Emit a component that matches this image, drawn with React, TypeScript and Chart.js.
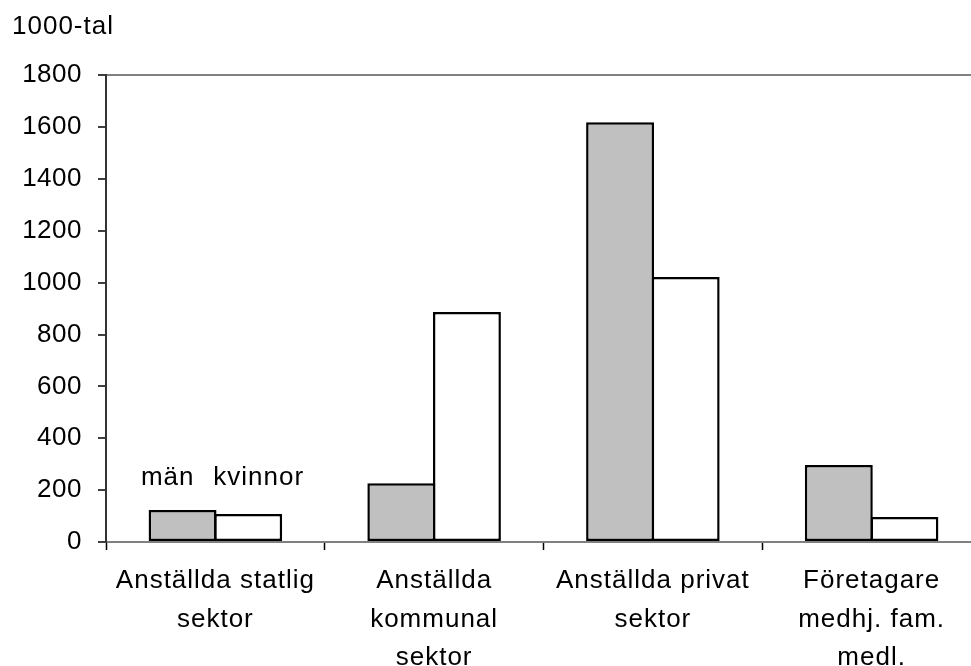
import { useEffect, useRef } from 'react';
import { Chart, registerables } from 'chart.js';

Chart.register(...registerables);

const categories: string[][] = [
  ['Anställda statlig', 'sektor'],
  ['Anställda', 'kommunal', 'sektor'],
  ['Anställda privat', 'sektor'],
  ['Företagare', 'medhj. fam.', 'medl.'],
];
const menValues = [123, 227, 1619, 297];
const womenValues = [108, 887, 1022, 96];
const seriesNames = ['män', 'kvinnor'];
const yMin = 0;
const yMax = 1800;
const yStep = 200;
const unitTitle = '1000-tal';
const seriesLabelValue = 220;

const FONT = '"Liberation Sans", Arial, Helvetica, sans-serif';

const spacingPlugin = {
  id: 'letterSpacing',
  beforeDraw(chart: any) {
    const ctx = chart.ctx;
    ctx.letterSpacing = '1px';
    const ys = chart.scales.y;
    if (ys && !ys._spPatched) {
      const orig = ys.drawLabels.bind(ys);
      ys.drawLabels = (area: any) => {
        const c = chart.ctx;
        const prev = c.letterSpacing;
        c.letterSpacing = '0.5px';
        orig(area);
        c.letterSpacing = prev;
      };
      ys._spPatched = true;
    }
  },
};

const seriesLabelPlugin = {
  id: 'seriesLabels',
  afterDatasetsDraw(chart: any) {
    const { ctx } = chart;
    const y = chart.scales.y;
    const m0 = chart.getDatasetMeta(0).data[0] as any;
    const k0 = chart.getDatasetMeta(1).data[0] as any;
    if (!m0 || !k0) return;
    ctx.save();
    ctx.letterSpacing = '1px';
    ctx.font = `26px ${FONT}`;
    ctx.fillStyle = '#000';
    ctx.textBaseline = 'alphabetic';
    const yy = y.getPixelForValue(seriesLabelValue);
    ctx.textAlign = 'right';
    ctx.fillText(chart.data.datasets[0].label, m0.x + m0.width / 2 - 22, yy);
    ctx.textAlign = 'left';
    ctx.fillText(chart.data.datasets[1].label, k0.x - k0.width / 2 - 1, yy);
    ctx.restore();
  },
};

export default function App() {
  const ref = useRef<HTMLCanvasElement | null>(null);

  useEffect(() => {
    if (!ref.current) return;
    const chart = new Chart(ref.current, {
      type: 'bar',
      data: {
        labels: categories,
        datasets: [
          {
            label: seriesNames[0],
            data: menValues,
            backgroundColor: '#c0c0c0',
            borderColor: '#000',
            borderWidth: 2.5,
            borderSkipped: false,
            barPercentage: 1.035,
            categoryPercentage: 0.6,
          },
          {
            label: seriesNames[1],
            data: womenValues,
            backgroundColor: '#ffffff',
            borderColor: '#000',
            borderWidth: 2.5,
            borderSkipped: false,
            barPercentage: 1.035,
            categoryPercentage: 0.6,
          },
        ],
      },
      options: {
        responsive: false,
        animation: false,
        devicePixelRatio: 1,
        layout: { padding: { left: 12, right: 9, top: 0, bottom: 0 } },
        plugins: {
          legend: { display: false },
          tooltip: { enabled: false },
          title: {
            display: true,
            text: unitTitle,
            align: 'start',
            color: '#000',
            font: { family: FONT, size: 26, weight: 'normal', lineHeight: 1.2 },
            padding: { top: 11, bottom: 33 },
          },
        },
        scales: {
          x: {
            type: 'category',
            offset: true,
            grid: {
              display: true,
              offset: true,
              drawOnChartArea: false,
              drawTicks: true,
              tickLength: 8,
              tickColor: '#000',
              tickWidth: 1.5,
            },
            border: { display: true, color: '#808080', width: 2 },
            ticks: {
              color: '#000',
              font: { family: FONT, size: 26, lineHeight: 1.48 },
              padding: 12,
              autoSkip: false,
              maxRotation: 0,
              minRotation: 0,
            },
            afterFit: (scale: any) => {
              scale.height = 124;
            },
          },
          y: {
            type: 'linear',
            min: yMin,
            max: yMax,
            grid: {
              display: true,
              drawOnChartArea: true,
              drawTicks: true,
              tickLength: 8,
              color: (c: any) => (c.tick && c.tick.value === yMax ? '#808080' : 'rgba(0,0,0,0)'),
              lineWidth: 2,
              tickColor: '#000',
              tickWidth: 1.5,
            },
            border: { display: true, color: '#333', width: 2 },
            ticks: {
              stepSize: yStep,
              color: '#000',
              font: { family: FONT, size: 26 },
              padding: 16,
              callback: (v: any) => String(v),
            },
            afterFit: (scale: any) => {
              scale.width = 94;
            },
          },
        },
      },
      plugins: [spacingPlugin, seriesLabelPlugin],
    } as any);
    return () => chart.destroy();
  }, []);

  return (
    <div
      style={{
        position: 'fixed',
        left: 0,
        top: 0,
        width: 971,
        height: 666,
        overflow: 'hidden',
        background: '#fff',
      }}
    >
      <canvas
        ref={ref}
        width={990}
        height={666}
        style={{ position: 'absolute', left: 0, top: 0, width: 990, height: 666 }}
      />
    </div>
  );
}
